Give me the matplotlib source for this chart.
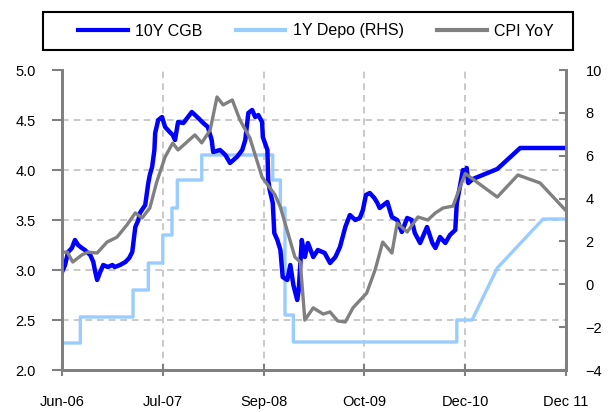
import numpy as np
import matplotlib
matplotlib.use("Agg")
import matplotlib.pyplot as plt
from matplotlib.patches import Rectangle

plt.rcParams['font.family'] = ['Liberation Sans', 'DejaVu Sans']
plt.rcParams['font.size'] = 10.5

# x = months since Jun-06
cgb_m = [0.0, 0.4, 0.8, 1.3, 1.7, 2.1, 2.6, 3.0, 3.4, 3.7, 4.1, 4.3, 4.6, 5.0, 5.4,
         6.0, 6.6, 6.9, 7.6, 8.3, 8.8, 9.2, 9.6, 10.0, 10.2, 10.9, 11.3, 11.5, 11.8,
         12.1, 12.2, 12.6, 13.1, 13.5, 14.1, 14.5, 14.8, 15.2, 15.9, 16.4, 17.0, 17.7,
         18.5, 19.1, 19.6, 19.8, 20.7, 21.4, 22.0, 22.9, 23.6, 24.0, 24.4, 24.9, 25.3,
         25.7, 26.2, 26.3, 26.9, 27.0, 27.2, 27.6, 27.8, 28.2, 28.6, 28.9, 29.5, 29.9,
         30.3, 30.8, 31.0, 31.4, 31.8, 32.2, 32.9, 33.5, 34.4, 35.1, 35.8, 36.4, 37.1,
         37.7, 38.4, 39.0, 39.4, 39.8, 40.3, 40.9, 41.3, 41.6, 42.6, 43.2, 43.9, 44.5,
         45.2, 45.8, 46.2, 46.9, 47.8, 48.5, 48.9, 49.5, 50.2, 50.8, 51.5, 51.7, 52.1,
         52.5, 52.8, 53.0, 53.2, 53.8, 57.0, 60.0, 66.0]
cgb_v = [2.98, 3.05, 3.18, 3.22, 3.30, 3.25, 3.22, 3.20, 3.17, 3.15, 3.08, 3.00, 2.90,
         2.98, 3.05, 3.03, 3.05, 3.03, 3.05, 3.08, 3.12, 3.18, 3.43, 3.50, 3.57, 3.65,
         3.87, 3.95, 4.03, 4.20, 4.37, 4.50, 4.53, 4.43, 4.38, 4.35, 4.30, 4.48, 4.47,
         4.52, 4.58, 4.53, 4.47, 4.43, 4.30, 4.18, 4.20, 4.15, 4.07, 4.13, 4.20, 4.30,
         4.57, 4.60, 4.53, 4.55, 4.48, 4.33, 4.20, 3.90, 3.80, 3.67, 3.37, 3.30, 3.20,
         2.93, 2.90, 3.05, 2.85, 2.70, 2.80, 3.30, 3.13, 3.27, 3.13, 3.20, 3.17, 3.07,
         3.13, 3.23, 3.43, 3.55, 3.50, 3.52, 3.60, 3.75, 3.77, 3.72, 3.67, 3.62, 3.68,
         3.53, 3.50, 3.38, 3.52, 3.50, 3.37, 3.27, 3.43, 3.27, 3.22, 3.33, 3.27, 3.35,
         3.40, 3.67, 3.83, 4.00, 3.95, 4.02, 3.87, 3.91, 4.01, 4.22, 4.22]

# 1Y deposit rate: step changes, then forecast path
depo_chg_m = [0.0, 2.4, 9.3, 11.3, 13.2, 14.4, 15.1, 18.3, 27.6, 28.6, 29.2, 30.3, 51.7]
depo_chg_v = [2.27, 2.53, 2.80, 3.07, 3.35, 3.62, 3.90, 4.15, 3.90, 3.62, 2.55, 2.28, 2.50]
depo_fc_m = [53.7, 57.0, 63.0, 66.0]
depo_fc_v = [2.50, 3.02, 3.51, 3.51]

cpi_m = [0.0, 0.7, 1.4, 2.6, 3.4, 4.6, 5.9, 7.2, 8.5, 9.6, 10.5, 11.5, 12.4, 13.5,
         14.5, 15.2, 17.4, 18.3, 19.4, 20.3, 21.1, 22.3, 23.3, 24.6, 26.2, 27.9, 28.6,
         30.5, 31.2, 31.8, 32.9, 34.2, 35.1, 36.1, 37.1, 38.1, 39.9, 41.0, 42.0, 43.2,
         43.9, 45.2, 46.6, 47.9, 48.9, 49.9, 51.2, 52.8, 57.0, 59.7, 62.6, 65.9]
cpi_v = [1.5, 1.5, 1.04, 1.37, 1.5, 1.46, 1.97, 2.2, 2.77, 3.33, 3.1, 3.56, 4.77, 5.94,
         6.59, 6.27, 6.97, 6.6, 7.2, 8.74, 8.37, 8.6, 7.67, 6.83, 5.0, 4.17, 3.6,
         1.27, 1.04, -1.67, -1.1, -1.39, -1.29, -1.71, -1.76, -1.1, -0.41, 0.67, 1.97,
         1.46, 2.86, 2.44, 3.14, 3.0, 3.33, 3.56, 3.65, 5.17, 4.07, 5.1, 4.73, 3.47]

tick_m = [0, 13.2, 26.4, 39.6, 52.8, 66]
tick_lab = ['Jun-06', 'Jul-07', 'Sep-08', 'Oct-09', 'Dec-10', 'Dec 11']

# build step line for depo
dm = []
dv = []
for i in range(len(depo_chg_m)):
    if i > 0:
        dm.append(depo_chg_m[i])
        dv.append(depo_chg_v[i - 1])
    dm.append(depo_chg_m[i])
    dv.append(depo_chg_v[i])
dm = dm + depo_fc_m
dv = dv + depo_fc_v

grey = '#808080'
fig = plt.figure(figsize=(6.08, 4.12), dpi=100)
ax = fig.add_axes([62/608, 42/412, 504/608, 300/412])
ax2 = ax.twinx()

for x in tick_m[1:-1]:
    ax.axvline(x, color='#C0C0C0', ls=(0, (4, 3)), lw=1.2, zorder=0)
for y in [2.5, 3.0, 3.5, 4.0, 4.5]:
    ax.axhline(y, color='#C0C0C0', ls=(0, (4, 3)), lw=1.2, zorder=0)

l1, = ax.plot(cgb_m, cgb_v, color='#0000FF', lw=3.2, label='10Y CGB', zorder=3)
l2, = ax.plot(dm, dv, color='#99CCFF', lw=2.4, label='1Y Depo (RHS)', zorder=2)
l3, = ax2.plot(cpi_m, cpi_v, color=grey, lw=2.4, label='CPI YoY', zorder=3)

ax.set_xlim(0, 66)
ax.set_ylim(2.0, 5.0)
ax2.set_ylim(-4, 10)
ax.set_yticks([2.0, 2.5, 3.0, 3.5, 4.0, 4.5, 5.0])
ax.set_yticklabels(['2.0', '2.5', '3.0', '3.5', '4.0', '4.5', '5.0'])
ax2.set_yticks(range(-4, 11, 2))
ax.set_xticks(tick_m)
ax.set_xticklabels(tick_lab)

for a in (ax, ax2):
    for s in a.spines.values():
        s.set_color(grey)
        s.set_linewidth(2)
    a.spines['top'].set_visible(False)
ax.tick_params(axis='y', direction='out', length=7, width=1.5, color=grey, pad=12)
ax.tick_params(axis='x', direction='inout', length=8, width=1.5, color=grey, pad=14)
ax2.tick_params(axis='y', direction='in', length=5, width=1.5, color=grey, pad=14)

# legend box drawn separately to match the wide frame
fig.patches.append(Rectangle((43/608, 1 - 50/412), 530/608, 38/412,
                             transform=fig.transFigure, fill=False,
                             edgecolor='black', linewidth=1.5))
leg = fig.legend(handles=[l1, l2, l3], loc='center', ncol=3,
                 bbox_to_anchor=(316/608, 1 - 31/412), frameon=False,
                 prop={'size': 11.5}, handlelength=3.1, handletextpad=0.45,
                 columnspacing=2.1)
for h in leg.get_lines():
    h.set_linewidth(3)

fig.savefig('out.png', dpi=100)
